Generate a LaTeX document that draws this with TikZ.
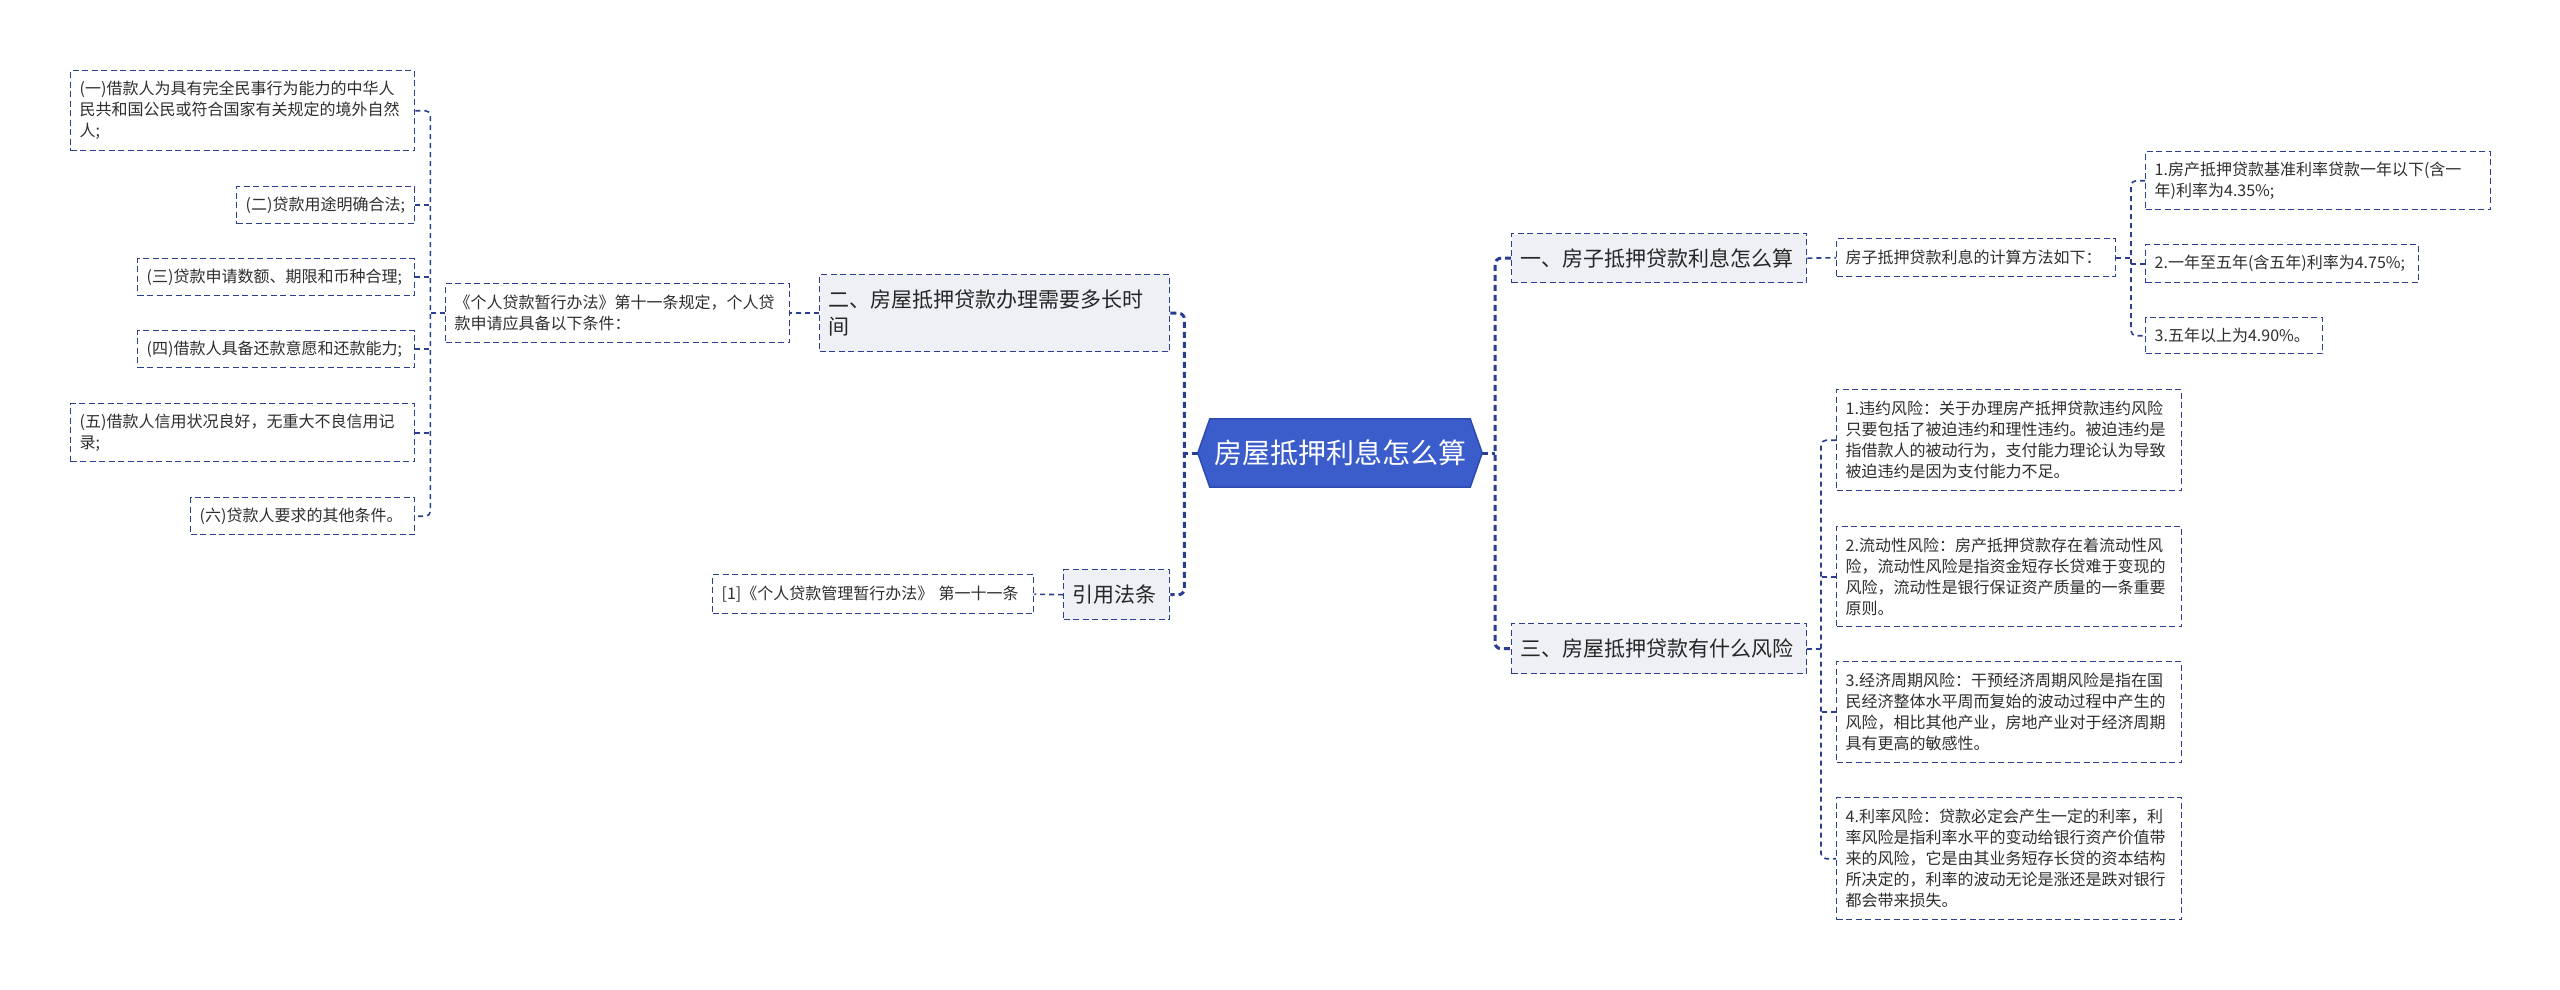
\documentclass[tikz,border=0pt]{standalone}
\usepackage{fontspec}
\setmainfont{Noto Sans CJK SC}
\usetikzlibrary{backgrounds}
\definecolor{bordc}{HTML}{2C3F8E}
\definecolor{mainc}{HTML}{2A3D92}
\definecolor{rootc}{HTML}{3B5CCB}
\definecolor{rootb}{HTML}{2C4AB0}
\definecolor{lvfill}{HTML}{EEF0F5}
\definecolor{txtc}{HTML}{2E2E2E}
\tikzset{
  box/.style={draw=bordc, line width=1.4pt, dash pattern=on 6pt off 3.5pt,
    inner xsep=9pt, inner ysep=0pt, align=left, anchor=north west, text=txtc},
  leaf/.style={box, font=\fontsize{16}{21}\selectfont},
  topic/.style={box, fill=lvfill, font=\fontsize{21}{27}\selectfont, text=black!85},
  thinlink/.style={draw=bordc, line width=1.6pt, dash pattern=on 5pt off 4pt, rounded corners=5pt},
  mainlink/.style={draw=mainc, line width=3pt, dash pattern=on 6pt off 4pt, rounded corners=6pt},
}
\begin{document}
\begin{tikzpicture}[x=1pt,y=-1pt]
\begin{scope}[on background layer]
\fill[white] (0,0) rectangle (2560,989);
\end{scope}
\useasboundingbox (0,0) rectangle (2560,989);

% root
\node[font=\fontsize{28}{34}\selectfont, text=white, minimum width=284pt, minimum height=68pt, inner sep=0pt] (root) at (1340,453) {房屋抵押利息怎么算};
\begin{scope}[on background layer]
\filldraw[fill=rootc, draw=rootb, line width=1.5pt]
  ([xshift=12pt]root.north west) -- ([xshift=-12pt]root.north east) -- (root.east)
  -- ([xshift=-12pt]root.south east) -- ([xshift=12pt]root.south west) -- (root.west) -- cycle;
\end{scope}

% left side
\node[topic, text width=332pt, minimum height=77pt] (n2) at (819,274) {二、房屋抵押贷款办理需要多长时\\间};
\node[topic, text width=88pt, minimum height=50pt] (n3) at (1063,569) {引用法条};
\node[leaf, text width=326pt, minimum height=59pt] (p2) at (445,283) {《个人贷款暂行办法》第十一条规定，个人贷\\款申请应具备以下条件：};
\node[leaf, text width=303pt, minimum height=39pt] (r1) at (712,574) {[1]《个人贷款管理暂行办法》 第一十一条};

\node[leaf, text width=326pt, minimum height=80pt] (l1) at (70,70) {(一)借款人为具有完全民事行为能力的中华人\\民共和国公民或符合国家有关规定的境外自然\\人;};
\node[leaf, text width=160pt, minimum height=37pt] (l2) at (236,186) {(二)贷款用途明确合法;};
\node[leaf, text width=259pt, minimum height=37pt] (l3) at (137,258) {(三)贷款申请数额、期限和币种合理;};
\node[leaf, text width=259pt, minimum height=37pt] (l4) at (137,330) {(四)借款人具备还款意愿和还款能力;};
\node[leaf, text width=326pt, minimum height=58pt] (l5) at (70,403) {(五)借款人信用状况良好，无重大不良信用记\\录;};
\node[leaf, text width=206pt, minimum height=37pt] (l6) at (190,497) {(六)贷款人要求的其他条件。};

% right side
\node[topic, text width=277pt, minimum height=49pt] (n1) at (1511,233) {一、房子抵押贷款利息怎么算};
\node[topic, text width=277pt, minimum height=50pt] (n4) at (1511,623) {三、房屋抵押贷款有什么风险};
\node[leaf, text width=261pt, minimum height=38pt] (c1) at (1836,238) {房子抵押贷款利息的计算方法如下：};

\node[leaf, text width=327pt, minimum height=58pt] (a1) at (2145,151) {1.房产抵押贷款基准利率贷款一年以下(含一\\年)利率为4.35\%;};
\node[leaf, text width=255pt, minimum height=38pt] (a2) at (2145,244) {2.一年至五年(含五年)利率为4.75\%;};
\node[leaf, text width=159pt, minimum height=36pt] (a3) at (2145,317) {3.五年以上为4.90\%。};

\node[leaf, text width=327pt, minimum height=101pt] (k1) at (1836,389) {1.违约风险：关于办理房产抵押贷款违约风险\\只要包括了被迫违约和理性违约。被迫违约是\\指借款人的被动行为，支付能力理论认为导致\\被迫违约是因为支付能力不足。};
\node[leaf, text width=327pt, minimum height=100pt] (k2) at (1836,526) {2.流动性风险：房产抵押贷款存在着流动性风\\险，流动性风险是指资金短存长贷难于变现的\\风险，流动性是银行保证资产质量的一条重要\\原则。};
\node[leaf, text width=327pt, minimum height=101pt] (k3) at (1836,661) {3.经济周期风险：干预经济周期风险是指在国\\民经济整体水平周而复始的波动过程中产生的\\风险，相比其他产业，房地产业对于经济周期\\具有更高的敏感性。};
\node[leaf, text width=327pt, minimum height=122pt] (k4) at (1836,797) {4.利率风险：贷款必定会产生一定的利率，利\\率风险是指利率水平的变动给银行资产价值带\\来的风险，它是由其业务短存长贷的资本结构\\所决定的，利率的波动无论是涨还是跌对银行\\都会带来损失。};

% main connectors
\draw[mainlink] (n2.east) -- ++(14,0) |- (n3.east);
\draw[mainlink] (root.west) -- ++(-15,0);
\draw[mainlink] (n1.west) -- ++(-16,0) |- (n4.west);
\draw[mainlink] (root.east) -- ++(13,0);

% thin connectors left
\draw[thinlink] (n2.west) -- (p2.east);
\draw[thinlink] (n3.west) -- (r1.east);
\draw[thinlink] (l1.east) -- ++(15,0) |- (l6.east);
\draw[thinlink] (l2.east) -- ++(15,0);
\draw[thinlink] (l3.east) -- ++(15,0);
\draw[thinlink] (l4.east) -- ++(15,0);
\draw[thinlink] (l5.east) -- ++(15,0);
\draw[thinlink] (p2.west) -- ++(-16,0);

% thin connectors right
\draw[thinlink] (n1.east) -- (c1.west);
\draw[thinlink] (a1.west) -- ++(-14,0) |- (a3.west);
\draw[thinlink] (a2.west) -- ++(-14,0);
\draw[thinlink] (c1.east) -- ++(16,0);
\draw[thinlink] (k1.west) -- ++(-15,0) |- (k4.west);
\draw[thinlink] (k2.west) -- ++(-15,0);
\draw[thinlink] (k3.west) -- ++(-15,0);
\draw[thinlink] (n4.east) -- ++(15,0);
\end{tikzpicture}
\end{document}
